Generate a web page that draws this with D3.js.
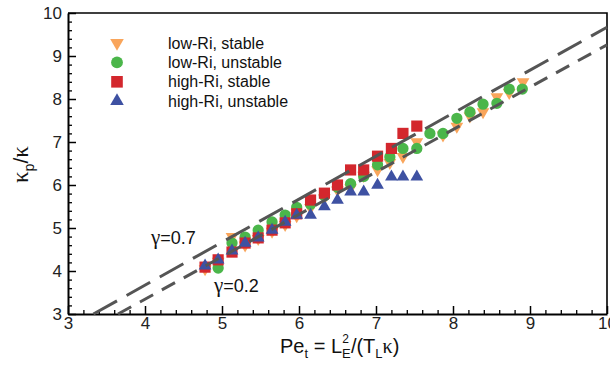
<!DOCTYPE html>
<html>
<head>
<meta charset="utf-8">
<script src="https://cdn.jsdelivr.net/npm/d3@7"></script>
<style>
  body { margin: 0; background: #fff; }
  svg { display: block; font-family: "Liberation Sans", Arial, sans-serif; }
</style>
</head>
<body>
<div class="canvas"></div>
<script>
// data
const peLowStable = [4.78,4.95,5.13,5.30,5.47,5.65,5.82,5.97,6.15,6.33,6.50,6.67,6.84,7.02,7.18,7.35,7.53,7.87,8.05,8.22,8.39,8.57,8.73,8.91];
const kLowStable  = [4.05,4.22,4.80,4.60,4.75,4.92,5.08,5.28,5.47,5.70,5.88,5.93,6.22,6.35,6.52,6.66,7.00,7.16,7.36,7.60,7.70,8.05,8.15,8.40];

const peLowUnstable = [4.95,5.13,5.30,5.47,5.65,5.82,5.97,6.15,6.33,6.50,6.67,6.84,7.02,7.18,7.35,7.53,7.70,7.87,8.05,8.22,8.39,8.57,8.73,8.90];
const kLowUnstable  = [4.07,4.65,4.79,4.95,5.14,5.30,5.48,5.55,5.75,5.95,6.03,6.20,6.47,6.65,6.85,6.85,7.20,7.20,7.55,7.70,7.88,7.90,8.23,8.23];

const peHighStable = [4.78,4.95,5.13,5.30,5.47,5.65,5.82,5.97,6.15,6.33,6.50,6.67,6.84,7.02,7.20,7.35,7.53];
const kHighStable  = [4.09,4.26,4.44,4.65,4.77,4.95,5.12,5.33,5.65,5.81,6.00,6.35,6.35,6.67,6.85,7.20,7.37];

const peHighUnstable = [4.78,4.95,5.13,5.30,5.47,5.65,5.82,5.97,6.15,6.33,6.50,6.67,6.84,7.02,7.20,7.35,7.53];
const kHighUnstable  = [4.12,4.26,4.47,4.65,4.77,4.95,5.14,5.30,5.30,5.50,5.65,5.84,5.84,6.00,6.19,6.19,6.19];

const seriesNames = ['low-Ri, stable', 'low-Ri, unstable', 'high-Ri, stable', 'high-Ri, unstable'];

// model lines (end points) and their labels
const gammaNames = ['γ=0.7', 'γ=0.2'];
const gammaLine07 = [[3.33, 3], [10, 9.67]];
const gammaLine02 = [[3.65, 3], [10, 9.26]];

const xTicks = [3,4,5,6,7,8,9,10];
const yTicks = [3,4,5,6,7,8,9,10];

const dims = { width: 610, height: 365 };
const plot = { left: 68, right: 607, top: 13, bottom: 314 };

const svg = d3.select('.canvas')
    .append('svg')
    .attr('width', dims.width)
    .attr('height', dims.height);

const x = d3.scaleLinear().domain([3, 10]).range([plot.left, plot.right]);
const y = d3.scaleLinear().domain([3, 10]).range([plot.bottom, plot.top]);

const minorVals = d3.range(30, 101, 2).map(v => v / 10).filter(v => !Number.isInteger(v));

// minor ticks first, then major axes
svg.append('g')
    .attr('transform', `translate(0, ${plot.bottom})`)
    .call(d3.axisBottom(x).tickValues(minorVals).tickSize(-4).tickFormat(''))
    .call(g => g.select('.domain').remove())
    .selectAll('line').attr('stroke', '#000').attr('stroke-width', 1.3);

svg.append('g')
    .attr('transform', `translate(${plot.left}, 0)`)
    .call(d3.axisLeft(y).tickValues(minorVals).tickSize(-4).tickFormat(''))
    .call(g => g.select('.domain').remove())
    .selectAll('line').attr('stroke', '#000').attr('stroke-width', 1.3);

const xAxis = svg.append('g')
    .attr('transform', `translate(0, ${plot.bottom})`)
    .call(d3.axisBottom(x).tickValues(xTicks).tickSize(-8).tickSizeOuter(0).tickPadding(3).tickFormat(d3.format('d')));

const yAxis = svg.append('g')
    .attr('transform', `translate(${plot.left}, 0)`)
    .call(d3.axisLeft(y).tickValues(yTicks).tickSize(-8).tickSizeOuter(0).tickPadding(6).tickFormat(d3.format('d')));

[xAxis, yAxis].forEach(g => {
    g.select('.domain').attr('stroke', '#000').attr('stroke-width', 2);
    g.selectAll('.tick line').attr('stroke', '#000').attr('stroke-width', 1.5);
    g.selectAll('text').attr('font-size', 17).attr('fill', '#222')
        .attr('font-family', '"Liberation Sans", Arial, sans-serif');
});

// top and right border
svg.append('path')
    .attr('d', `M${plot.left},${plot.top}H${plot.right}V${plot.bottom}`)
    .attr('fill', 'none')
    .attr('stroke', '#000')
    .attr('stroke-width', 1.6);

// markers
const colour = d3.scaleOrdinal()
    .domain(seriesNames)
    .range(['#f9a55b', '#4bb64a', '#d3272d', '#3e51a2']);

const shapes = [
    { sym: d3.symbolTriangle, size: 70, rot: 180 },
    { sym: d3.symbolCircle, size: 100, rot: 0 },
    { sym: d3.symbolSquare, size: 125, rot: 0 },
    { sym: d3.symbolTriangle, size: 70, rot: 0 }
];

const seriesData = [
    d3.zip(peLowStable, kLowStable),
    d3.zip(peLowUnstable, kLowUnstable),
    d3.zip(peHighStable, kHighStable),
    d3.zip(peHighUnstable, kHighUnstable)
];

seriesData.forEach((pts, i) => {
    const s = shapes[i];
    svg.append('g')
        .selectAll('path')
        .data(pts)
        .enter()
        .append('path')
            .attr('d', d3.symbol().type(s.sym).size(s.size))
            .attr('transform', d => `translate(${x(d[0])}, ${y(d[1])}) rotate(${s.rot})`)
            .attr('fill', colour(seriesNames[i]));
});

// dashed model lines on top of markers
const line = d3.line().x(d => x(d[0])).y(d => y(d[1]));

svg.append('path')
    .attr('d', line(gammaLine07))
    .attr('fill', 'none')
    .attr('stroke', '#555')
    .attr('stroke-width', 3)
    .attr('stroke-dasharray', '27,11');

svg.append('path')
    .attr('d', line(gammaLine02))
    .attr('fill', 'none')
    .attr('stroke', '#555')
    .attr('stroke-width', 3)
    .attr('stroke-dasharray', '15,10');

const gammaPos = [[151, 244], [214, 292]];
gammaNames.forEach((t, i) => {
    const txt = svg.append('text')
        .attr('x', gammaPos[i][0])
        .attr('y', gammaPos[i][1])
        .attr('font-size', 18)
        .attr('fill', '#111');
    txt.append('tspan').attr('font-family', '"Liberation Serif", serif').attr('font-size', 21).text(t[0]);
    txt.append('tspan').text(t.slice(1));
});

// legend
const legendGroup = svg.append('g');
seriesNames.forEach((name, i) => {
    const ly = 43 + i * 19.4;
    const s = shapes[i];
    legendGroup.append('path')
        .attr('d', d3.symbol().type(s.sym).size(s.size + 10))
        .attr('transform', `translate(117, ${ly}) rotate(${s.rot})`)
        .attr('fill', colour(name));
    legendGroup.append('text')
        .attr('x', 168)
        .attr('y', ly + 5.5)
        .attr('font-size', 16)
        .attr('fill', '#111')
        .text(name);
});

// axis titles
const xTitle = svg.append('text')
    .attr('x', 280)
    .attr('y', 353)
    .attr('font-size', 20)
    .attr('fill', '#111');
xTitle.append('tspan').text('Pe');
xTitle.append('tspan').attr('font-size', 13).attr('dy', 5).text('t');
xTitle.append('tspan').attr('dy', -5).text(' = L');
xTitle.append('tspan').attr('font-size', 13).attr('dy', 5).text('E');
xTitle.append('tspan').attr('font-size', 12).attr('dx', -8.5).attr('dy', -15).text('2');
xTitle.append('tspan').attr('dx', 2).attr('dy', 10).text('/(T');
xTitle.append('tspan').attr('font-size', 13).attr('dy', 5).text('L');
xTitle.append('tspan').attr('dy', -5).attr('font-family', '"Liberation Serif", serif').text('κ');
xTitle.append('tspan').text(')');

const yTitle = svg.append('text')
    .attr('transform', 'translate(28, 183) rotate(-90)')
    .attr('font-size', 21)
    .attr('fill', '#111');
yTitle.append('tspan').attr('font-family', '"Liberation Serif", serif').attr('font-size', 23).text('κ');
yTitle.append('tspan').attr('font-size', 14).attr('dy', 6).text('p');
yTitle.append('tspan').attr('dy', -6).text('/');
yTitle.append('tspan').attr('font-family', '"Liberation Serif", serif').attr('font-size', 23).text('κ');
</script>
</body>
</html>
